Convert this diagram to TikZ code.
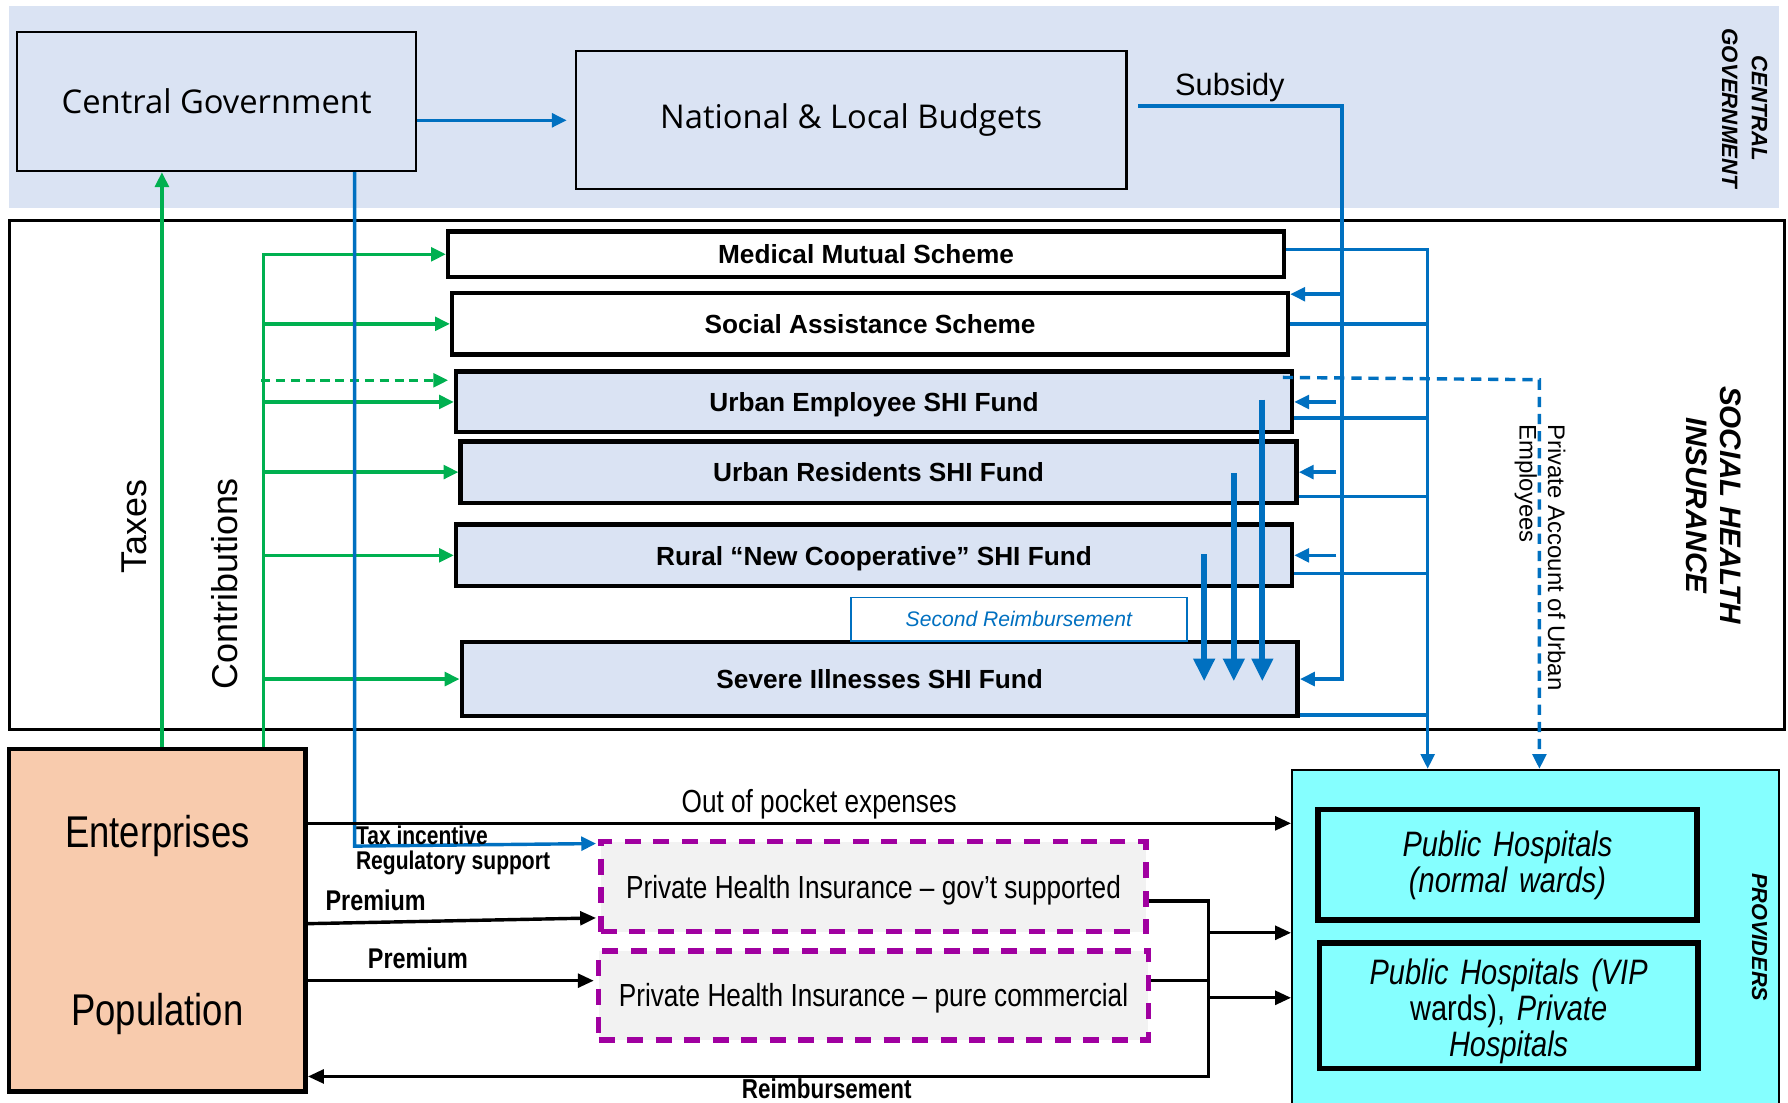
\documentclass[tikz,border=0pt]{standalone}
\usepackage{fontspec}
\setmainfont{Liberation Sans}
\newfontfamily\narrowfont[FakeStretch=0.82]{Liberation Sans}
\newfontfamily\uifont{Open Sans}
\usepackage{tikz}
\usetikzlibrary{arrows.meta, calc}
\definecolor{govblue}{HTML}{DAE3F3}
\definecolor{flowblue}{HTML}{0070C0}
\definecolor{flowgreen}{HTML}{00B050}
\definecolor{peach}{HTML}{F8CBAD}
\definecolor{provcyan}{HTML}{85FFFF}
\definecolor{phipurple}{HTML}{A000A0}
\definecolor{phigray}{HTML}{F2F2F2}
\tikzstyle{zone} = [rectangle, draw=black, line width=2.5pt, fill=white, inner sep=0pt]
\tikzstyle{zonelabel} = [rotate=-90, align=center, font=\bfseries\itshape\fontsize{26}{30}\selectfont]
\tikzstyle{govbox} = [rectangle, draw=black, line width=2pt, fill=govblue, font=\uifont\fontsize{28.7}{33}\selectfont]
\tikzstyle{scheme} = [rectangle, draw=black, line width=4pt, fill=white, minimum width=733pt, text height=17pt, text depth=0pt, font=\fontsize{23}{27}\selectfont\bfseries]
\tikzstyle{fund} = [scheme, fill=govblue]
\tikzstyle{phi} = [rectangle, draw=phipurple, line width=4.5pt, dash pattern=on 14pt off 11pt, fill=phigray, text height=20pt, text depth=0pt, font=\narrowfont\fontsize{28}{32}\selectfont]
\tikzstyle{hospital} = [rectangle, draw=black, line width=5pt, fill=provcyan, minimum width=332pt, text width=310pt, align=center, font=\narrowfont\itshape\fontsize{31}{31.5}\selectfont]
\tikzstyle{bignarrow} = [font=\narrowfont\fontsize{39}{44}\selectfont]
\tikzstyle{boldnarrow} = [font=\narrowfont\bfseries\fontsize{25}{29}\selectfont]
\tikzstyle{blueline} = [draw=flowblue, line width=3pt]
\tikzstyle{bluearrow} = [blueline, -{Triangle[length=13pt,width=12pt]}]
\tikzstyle{bluedash} = [bluearrow, dash pattern=on 9pt off 6pt]
\tikzstyle{fatarrow} = [draw=flowblue, line width=5.5pt, -{Triangle[length=20pt,width=18pt]}]
\tikzstyle{greenarrow} = [draw=flowgreen, line width=3pt, -{Triangle[length=13pt,width=12pt]}]
\tikzstyle{blackline} = [draw=black, line width=3pt]
\tikzstyle{blackarrow} = [blackline, -{Triangle[length=14pt,width=12pt]}]

\begin{document}
\begin{tikzpicture}[x=1pt, y=-1pt, node distance=65pt]
\useasboundingbox (0,0) rectangle (1568,967);

\node (govzone) [zone, draw=none, fill=govblue, minimum width=1552pt, minimum height=177pt] at (784,93.5) {};
\node (govlabel) [zonelabel, font=\bfseries\itshape\fontsize{19.5}{26}\selectfont] at (1530,95) {CENTRAL\\GOVERNMENT};

\node (cg) [govbox, minimum width=350pt, minimum height=122pt] at (190,89) {Central Government};
\node (budgets) [govbox, minimum width=483pt, minimum height=121pt] at (746.5,105.5) {National \& Local Budgets};
\draw[bluearrow] ([yshift=-16.5pt]cg.east) -- ([xshift=-7pt]budgets.west);

\node (shizone) [zone, minimum width=1557pt, minimum height=447pt] at (786.5,416.5) {};
\node (shilabel) [zonelabel] at (1503,443) {SOCIAL HEALTH\\INSURANCE};

\node (mms) [scheme, minimum height=40pt] at (759.5,223) {Medical Mutual Scheme};
\node (sas) [scheme, minimum height=54pt, below of=mms, xshift=3.5pt, yshift=4pt] {Social Assistance Scheme};
\node (uesf) [fund, minimum height=53pt, below of=sas, xshift=3.5pt, yshift=-3.5pt] {Urban Employee SHI Fund};
\node (ursf) [fund, minimum height=54pt, below of=uesf, xshift=4pt, yshift=3.5pt] {Urban Residents SHI Fund};
\node (rural) [fund, minimum height=54pt, below of=ursf, xshift=-4pt, yshift=-8pt] {Rural “New Cooperative” SHI Fund};
\node (severe) [fund, minimum height=65pt, below of=rural, xshift=5pt, yshift=-43.5pt] {Severe Illnesses SHI Fund};
\node (second) [rectangle, draw=flowblue, line width=1.5pt, fill=white, minimum width=295pt, minimum height=38pt, text=flowblue, font=\itshape\fontsize{18.5}{22}\selectfont] at (893.5,543) {Second Reimbursement};

\node (popbox) [rectangle, draw=black, line width=4pt, fill=peach, minimum width=260pt, minimum height=300pt] at (138,807) {};
\node (enterprises) [bignarrow] at (138,733) {Enterprises};
\node (population) [bignarrow] at (138,889) {Population};

\node (providers) [rectangle, draw=black, line width=1.5pt, fill=provcyan, minimum width=427pt, minimum height=300pt] at (1346.5,825) {};
\node (provlabel) [zonelabel, font=\bfseries\itshape\fontsize{19}{23}\selectfont] at (1543,822) {PROVIDERS};
\node (phnormal) [hospital, minimum height=97pt] at (1322,758.5) {Public Hospitals\\(normal wards)};
\node (phvip) [hospital, minimum height=110pt, text height=31.6pt] at (1323,882) {Public Hospitals (VIP\\{\upshape wards),} Private\\Hospitals};

\node (phigov) [phi, minimum width=478pt, minimum height=79pt] at (766,777.5) {Private Health Insurance – gov’t supported};
\node (phicom) [phi, minimum width=482pt, minimum height=78pt] at (766,873) {Private Health Insurance – pure commercial};

\coordinate (subsidy) at (1177,93);
\draw[bluearrow] ([xshift=9pt,yshift=12.5pt]budgets.east) -- node[above, pos=0.45, inner sep=2pt, text=black, font=\fontsize{27}{32}\selectfont] {Subsidy} (subsidy) |- (severe.east);
\draw[bluearrow] ($(subsidy |- sas.east)+(0,-26)$) -- ([yshift=26pt]sas.east);
\draw[bluearrow] ($(subsidy |- uesf.east)+(-5,0)$) -- (uesf.east);
\draw[bluearrow] ($(subsidy |- ursf.east)+(-5,0)$) -- (ursf.east);
\draw[bluearrow] ($(subsidy |- rural.east)+(-5,0)$) -- (rural.east);

\coordinate (outbus) at (1252,219);
\draw[bluearrow] ([yshift=4pt]mms.east) -- (outbus) -- (outbus |- providers.north);
\draw[blueline] (sas.east) -- (sas.east -| outbus);
\draw[blueline] ($(uesf.east)+(0,14)$) -- ($(uesf.east -| outbus)+(0,14)$);
\draw[blueline] ($(ursf.east)+(0,21.5)$) -- ($(ursf.east -| outbus)+(0,21.5)$);
\draw[blueline] ($(rural.east)+(0,16)$) -- ($(rural.east -| outbus)+(0,16)$);
\draw[blueline] ($(severe.east)+(0,31.5)$) -- ($(severe.east -| outbus)+(0,31.5)$);

\coordinate (privacct) at (1350,333);
\draw[bluedash] ($(uesf.north east)+(-10,7)$) -- (privacct) -- (privacct |- providers.north);
\node (privlabel) [rotate=-90, anchor=north west, align=left, inner sep=0pt, font=\fontsize{21}{25}\selectfont] at (1373,372) {Private Account of Urban\\Employees};

\draw[fatarrow] ($(uesf.east)+(-28,-2)$) -- ($(uesf.east |- severe.center)+(-28,2)$);
\draw[fatarrow] ($(ursf.east)+(-57,1)$) -- ($(ursf.east |- severe.center)+(-57,2)$);
\draw[fatarrow] ($(rural.east)+(-79,-1)$) -- ($(rural.east |- severe.center)+(-79,2)$);

\coordinate (taxes) at ([xshift=4pt]popbox.north);
\draw[greenarrow] (taxes) -- (taxes |- cg.south);
\node (taxeslabel) [rotate=90, font=\fontsize{31.5}{36}\selectfont] at (118,462) {Taxes};

\coordinate (contrib) at ([xshift=93pt]popbox.north);
\draw[greenarrow] (contrib) |- (mms.west);
\draw[greenarrow] (contrib |- sas.west) -- (sas.west);
\draw[greenarrow] (contrib |- uesf.west) -- (uesf.west);
\draw[greenarrow] (contrib |- ursf.west) -- (ursf.west);
\draw[greenarrow] (contrib |- rural.west) -- (rural.west);
\draw[greenarrow] (contrib |- severe.west) -- (severe.west);
\draw[greenarrow, dash pattern=on 8pt off 5pt] ($(contrib |- uesf.west)+(-2,-19)$) -- ($(uesf.west)+(-5,-19)$);
\node (contriblabel) [rotate=90, font=\fontsize{31.5}{36}\selectfont] at (197,512) {Contributions};

\coordinate (cgturn) at (311,742);
\draw[bluearrow] ([xshift=121pt]cg.south) -- (cgturn) -- ($(phigov.north west)+(-2,4)$);
\node (taxinc) [anchor=south west, inner sep=1pt, font=\narrowfont\bfseries\fontsize{22.5}{26}\selectfont] at (cgturn) {Tax incentive};
\node (regsup) [anchor=north west, inner sep=1pt, yshift=-3pt, font=\narrowfont\bfseries\fontsize{22.5}{26}\selectfont] at (cgturn) {Regulatory support};

\coordinate (oop) at ($(popbox.east)+(0,-85)$);
\draw[blackarrow] (oop) -- node[above, pos=0.52, inner sep=2pt, font=\narrowfont\fontsize{28}{32}\selectfont] {Out of pocket expenses} (oop -| providers.west);

\draw[blackarrow] ($(popbox.east)+(0,3)$) -- node[above, pos=0.235, inner sep=0pt, yshift=9pt, boldnarrow] {Premium} ($(phigov.west)+(-2,27.5)$);
\draw[blackarrow] ($(popbox.east)+(0,53)$) -- node[above, pos=0.385, inner sep=0pt, yshift=9pt, boldnarrow] {Premium} ($(phicom.west)+(-2,-13)$);

\coordinate (reimb) at (1060,944);
\draw[blackarrow] ($(phigov.east)+(0,12.5)$) -| (reimb) -- node[below, pos=0.424, inner sep=0.5pt, font=\narrowfont\bfseries\fontsize{24}{28}\selectfont] {Reimbursement} (reimb -| popbox.east);
\draw[blackline] ($(phicom.east)+(0,-13)$) -- ($(phicom.east -| reimb)+(0,-13)$);
\draw[blackarrow] ($(reimb |- providers.west)+(0,-7)$) -- ($(providers.west)+(0,-7)$);
\draw[blackarrow] ($(reimb |- providers.west)+(0,50)$) -- ($(providers.west)+(0,50)$);

\end{tikzpicture}
\end{document}
